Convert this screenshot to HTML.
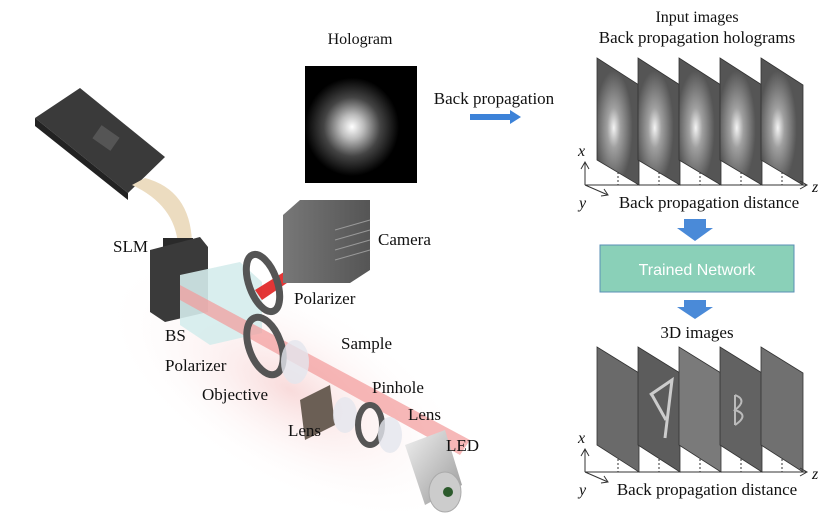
<!DOCTYPE html>
<html><head><meta charset="utf-8"><style>
html,body{margin:0;padding:0;background:#fff;overflow:hidden;width:836px;height:516px;}
svg{display:block;font-family:"Liberation Serif",serif;}
</style></head><body>
<svg width="836" height="516" viewBox="0 0 836 516" xmlns="http://www.w3.org/2000/svg">
<defs>
<radialGradient id="holo" cx="0.42" cy="0.52" r="0.42">
<stop offset="0" stop-color="#fff"/><stop offset="0.25" stop-color="#bbb"/><stop offset="0.6" stop-color="#444"/><stop offset="1" stop-color="#000"/>
</radialGradient>
<radialGradient id="pl" cx="0.4" cy="0.55" r="0.45">
<stop offset="0" stop-color="#f4f4f4"/><stop offset="0.35" stop-color="#a0a0a0"/><stop offset="1" stop-color="#555"/>
</radialGradient>
<radialGradient id="glow" cx="0.5" cy="0.5" r="0.5">
<stop offset="0" stop-color="#f6cccc" stop-opacity="0.7"/><stop offset="1" stop-color="#fff" stop-opacity="0"/>
</radialGradient>
<linearGradient id="led" x1="0" y1="0" x2="1" y2="1"><stop offset="0" stop-color="#f0f0f0"/><stop offset="1" stop-color="#999"/></linearGradient>
<linearGradient id="cam" x1="0" y1="0" x2="1" y2="0"><stop offset="0" stop-color="#777"/><stop offset="1" stop-color="#555"/></linearGradient>
</defs>

<ellipse cx="290" cy="390" rx="210" ry="95" fill="url(#glow)" transform="rotate(30 290 390)"/>
<polygon points="35,118 80,88 165,157 128,193" fill="#3a3a3a"/>
<polygon points="35,118 128,193 128,200 35,126" fill="#222"/>
<rect x="95" y="130" width="22" height="16" fill="#555" transform="rotate(35 106 138)"/>
<path d="M132,185 Q175,205 178,245 L192,242 Q190,190 145,178 Z" fill="#ecdcc0"/>
<rect x="163" y="238" width="30" height="14" fill="#2a2a2a"/>
<polygon points="150,250 200,237 208,247 208,312 165,322 150,312" fill="#3a3a3a"/>
<polygon points="180,275 240,262 262,282 262,333 210,345 180,325" fill="#d5ecec" opacity="0.9"/>
<polygon points="180,285 470,440 460,455 180,300" fill="#f29a9a" opacity="0.7"/>
<polygon points="255,290 300,262 306,270 262,300" fill="#e02020" opacity="0.9"/>
<ellipse cx="263" cy="283" rx="14" ry="30" fill="none" stroke="#555" stroke-width="7" transform="rotate(-20 263 283)"/>
<polygon points="283,215 300,200 370,200 370,270 350,283 283,283" fill="url(#cam)"/>
<g stroke="#999" stroke-width="1"><line x1="335" y1="230" x2="370" y2="220"/><line x1="335" y1="240" x2="370" y2="230"/><line x1="335" y1="250" x2="370" y2="240"/><line x1="335" y1="260" x2="370" y2="250"/></g>
<ellipse cx="265" cy="346" rx="16" ry="30" fill="none" stroke="#555" stroke-width="7" transform="rotate(-20 265 346)"/>
<ellipse cx="295" cy="362" rx="14" ry="22" fill="#e4e6ee" opacity="0.8"/>
<polygon points="300,400 330,385 335,425 305,440" fill="#6b5f55"/>
<ellipse cx="345" cy="415" rx="12" ry="18" fill="#e4e6ee" opacity="0.8"/>
<ellipse cx="370" cy="425" rx="12" ry="20" fill="none" stroke="#555" stroke-width="6"/>
<ellipse cx="390" cy="435" rx="12" ry="18" fill="#e4e6ee" opacity="0.8"/>
<polygon points="405,445 445,430 462,485 425,505" fill="url(#led)"/>
<ellipse cx="445" cy="492" rx="16" ry="20" fill="#ccc" stroke="#aaa"/>
<circle cx="448" cy="492" r="5" fill="#2c5a2c"/>

<g font-size="17" fill="#111">
<text x="113" y="252">SLM</text>
<text x="378" y="245">Camera</text>
<text x="294" y="304">Polarizer</text>
<text x="165" y="341">BS</text>
<text x="341" y="349">Sample</text>
<text x="165" y="371">Polarizer</text>
<text x="202" y="400">Objective</text>
<text x="372" y="393">Pinhole</text>
<text x="288" y="436">Lens</text>
<text x="408" y="420">Lens</text>
<text x="446" y="451">LED</text>
</g>

<text x="360" y="44" font-size="16" text-anchor="middle" fill="#111">Hologram</text>
<rect x="305" y="66" width="112" height="117" fill="url(#holo)"/>
<text x="494" y="104" font-size="17" text-anchor="middle" fill="#111">Back propagation</text>
<polygon points="470,114 510,114 510,110 521,117 510,124 510,120 470,120" fill="#3c82d8"/>

<text x="697" y="22" font-size="16" text-anchor="middle" fill="#111">Input images</text>
<text x="697" y="43" font-size="17" text-anchor="middle" fill="#111">Back propagation holograms</text>
<g>
<polygon points="597,58 639,85 639,185 597,160" fill="url(#pl)" stroke="#333" stroke-width="0.8"/>
<polygon points="638,58 680,85 680,185 638,160" fill="url(#pl)" stroke="#333" stroke-width="0.8"/>
<polygon points="679,58 721,85 721,185 679,160" fill="url(#pl)" stroke="#333" stroke-width="0.8"/>
<polygon points="720,58 762,85 762,185 720,160" fill="url(#pl)" stroke="#333" stroke-width="0.8"/>
<polygon points="761,58 803,85 803,185 761,160" fill="url(#pl)" stroke="#333" stroke-width="0.8"/>
</g>
<g stroke="#333" stroke-width="1" fill="none">
<line x1="585" y1="185" x2="806" y2="185"/><polyline points="800,181 807,185 800,189"/>
<line x1="585" y1="185" x2="585" y2="163"/><polyline points="581,169 585,162 589,169"/>
<line x1="585" y1="185" x2="608" y2="195"/><polyline points="601,196 608,195 604,189"/>
<g stroke-dasharray="2,2"><line x1="618" y1="172" x2="618" y2="185"/><line x1="659" y1="172" x2="659" y2="185"/><line x1="700" y1="172" x2="700" y2="185"/><line x1="741" y1="172" x2="741" y2="185"/><line x1="782" y1="172" x2="782" y2="185"/></g>
</g>
<g font-size="16" fill="#111" font-style="italic"><text x="578" y="156">x</text><text x="579" y="208">y</text><text x="812" y="192">z</text></g>
<text x="709" y="208" font-size="17" text-anchor="middle" fill="#111">Back propagation distance</text>

<polygon points="684,219 706,219 706,228 713,228 695,241 677,228 684,228" fill="#4a8ad8"/>
<rect x="600" y="245" width="194" height="47" fill="#8ad0b8" stroke="#5a8fb5" stroke-width="1"/>
<text x="697" y="275" font-family="Liberation Sans,sans-serif" font-size="16" text-anchor="middle" fill="#fff">Trained Network</text>
<polygon points="684,300 706,300 706,307 713,307 695,319 677,307 684,307" fill="#4a8ad8"/>

<text x="697" y="338" font-size="17" text-anchor="middle" fill="#111">3D images</text>
<g stroke="#333" stroke-width="0.8">
<polygon points="597,347 639,373 639,472 597,445" fill="#6a6a6a"/>
<polygon points="638,347 680,373 680,472 638,445" fill="#5c5c5c"/>
<polygon points="679,347 721,373 721,472 679,445" fill="#7a7a7a"/>
<polygon points="720,347 762,373 762,472 720,445" fill="#626262"/>
<polygon points="761,347 803,373 803,472 761,445" fill="#707070"/>
</g>
<path d="M650,395 L672,380 L665,438 M652,395 L666,420" stroke="#ccc" stroke-width="3" fill="none"/>
<path d="M735,395 L735,425 M735,395 Q748,400 735,410 Q750,415 735,425" stroke="#bbb" stroke-width="2" fill="none"/>
<g stroke="#333" stroke-width="1" fill="none">
<line x1="585" y1="472" x2="806" y2="472"/><polyline points="800,468 807,472 800,476"/>
<line x1="585" y1="472" x2="585" y2="450"/><polyline points="581,456 585,449 589,456"/>
<line x1="585" y1="472" x2="608" y2="482"/><polyline points="601,483 608,482 604,476"/>
<g stroke-dasharray="2,2"><line x1="618" y1="459" x2="618" y2="472"/><line x1="659" y1="459" x2="659" y2="472"/><line x1="700" y1="459" x2="700" y2="472"/><line x1="741" y1="459" x2="741" y2="472"/><line x1="782" y1="459" x2="782" y2="472"/></g>
</g>
<g font-size="16" fill="#111" font-style="italic"><text x="578" y="443">x</text><text x="579" y="495">y</text><text x="812" y="479">z</text></g>
<text x="707" y="495" font-size="17" text-anchor="middle" fill="#111">Back propagation distance</text>
</svg>
</body></html>
